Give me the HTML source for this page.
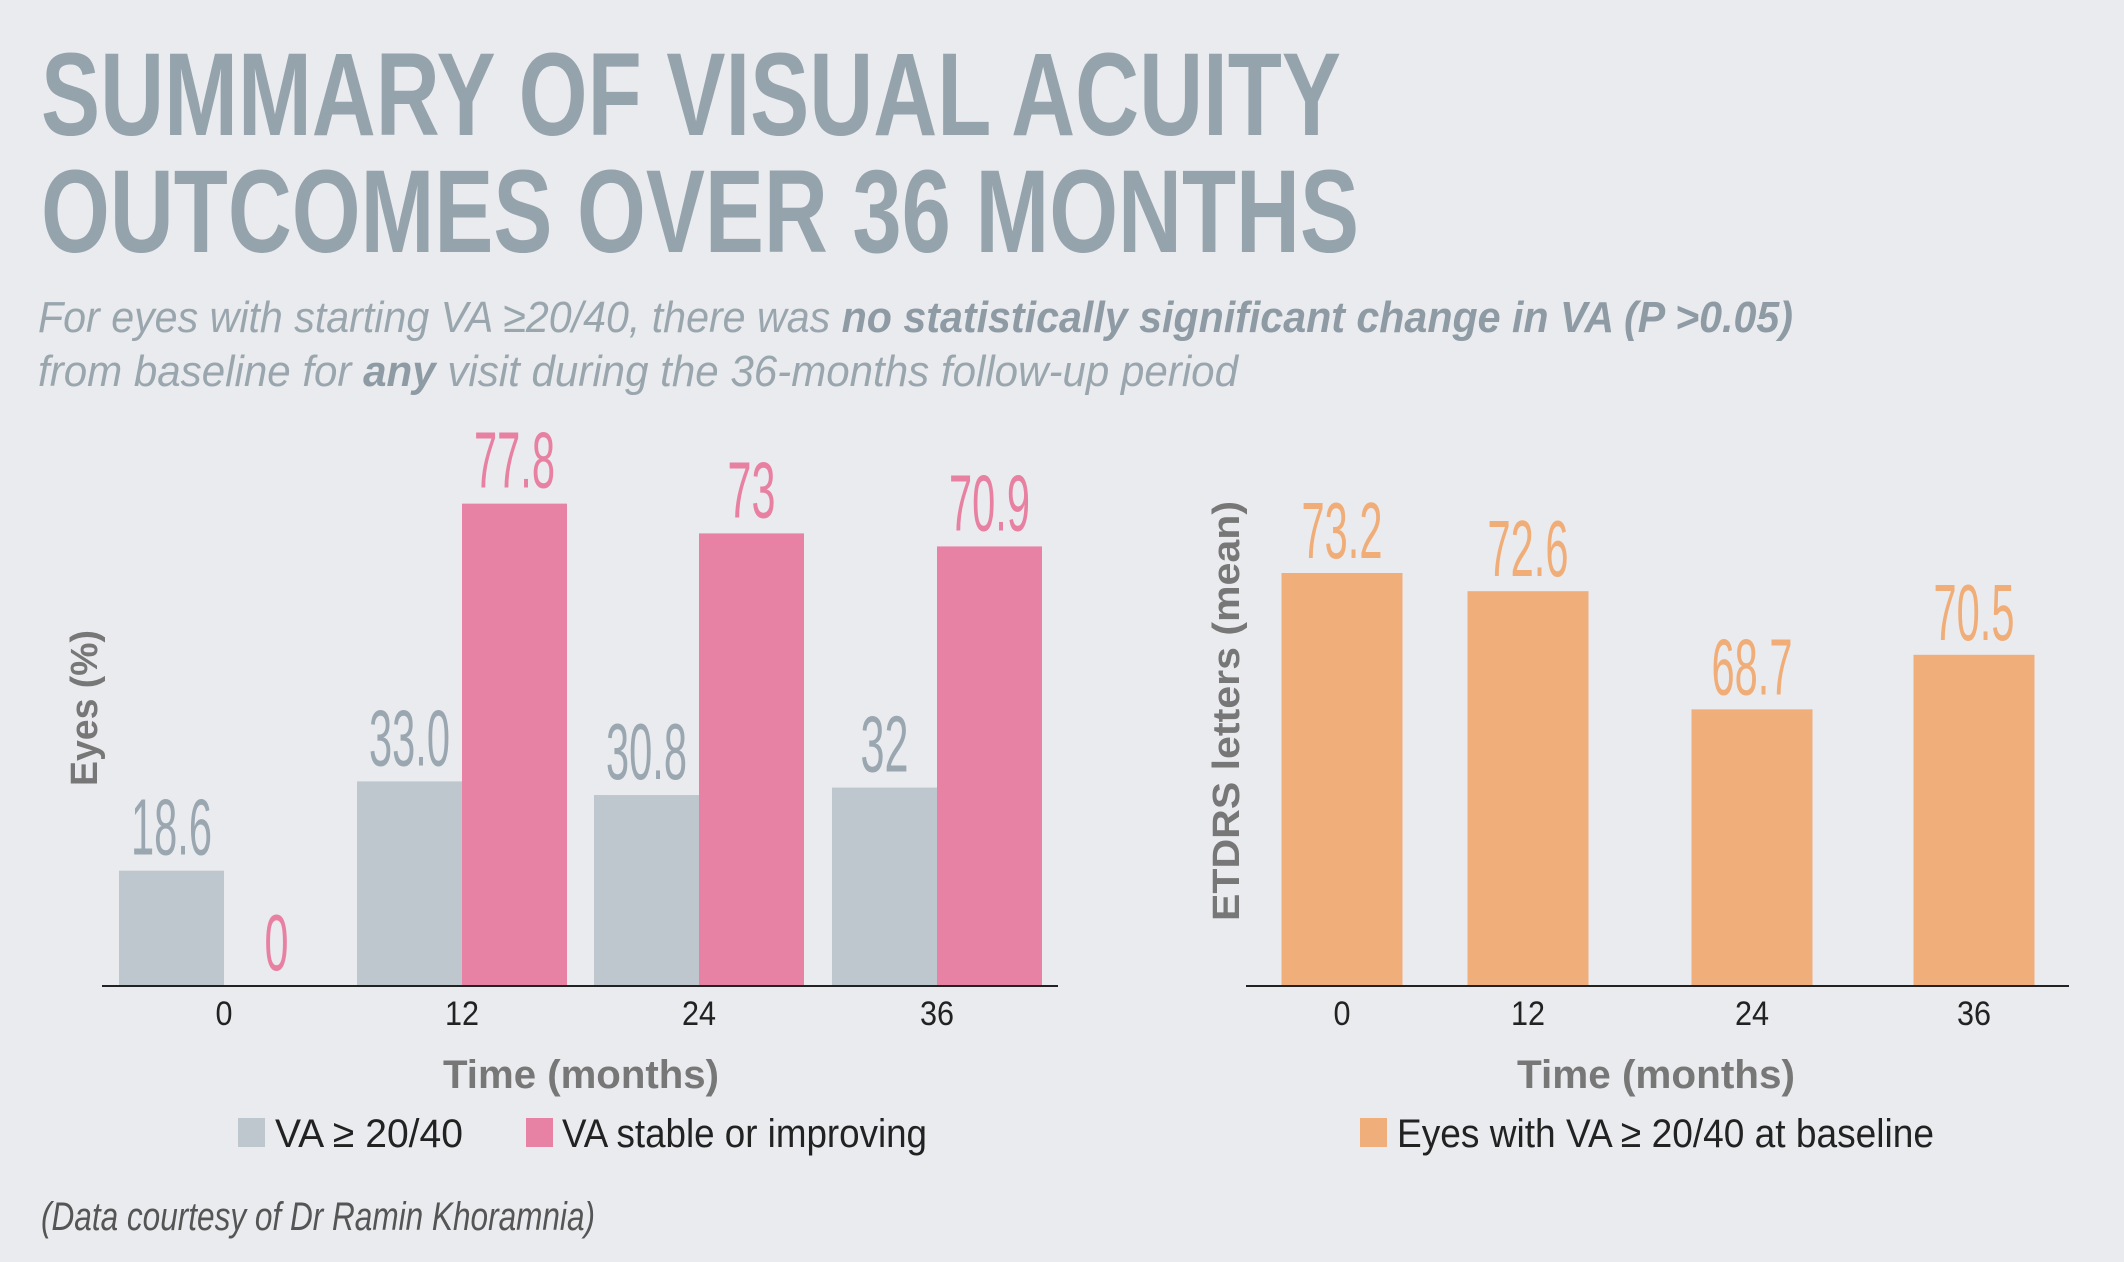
<!DOCTYPE html>
<html><head><meta charset="utf-8"><style>
html,body{margin:0;padding:0;background:#e9ebee;}
svg{display:block;font-family:"Liberation Sans",sans-serif;}
</style></head><body>
<svg id="root" width="2124" height="1262" viewBox="0 0 2124 1262">
<rect x="0" y="0" width="2124" height="1262" fill="#e9ebee"/>
<g fill="#95a3ac" font-weight="bold" font-size="118">
<text x="41" y="135" textLength="1300" lengthAdjust="spacingAndGlyphs">SUMMARY OF VISUAL ACUITY</text>
<text x="41" y="252" textLength="1318" lengthAdjust="spacingAndGlyphs">OUTCOMES OVER 36 MONTHS</text>
</g>
<g fill="#9aa6ae" font-style="italic" font-size="44">
<text x="38" y="332" textLength="1755" lengthAdjust="spacingAndGlyphs">For eyes with starting VA ≥20/40, there was <tspan font-weight="bold" fill="#8e9ba4">no statistically significant change in VA (P &gt;0.05)</tspan></text>
<text x="38" y="386" textLength="1200" lengthAdjust="spacingAndGlyphs">from baseline for <tspan font-weight="bold" fill="#8e9ba4">any</tspan> visit during the 36-months follow-up period</text>
</g>
<g id="left"></g>
<g id="right"></g>
<text x="41" y="1230" font-size="40" font-style="italic" fill="#555" textLength="554" lengthAdjust="spacingAndGlyphs">(Data courtesy of Dr Ramin Khoramnia)</text>
</svg>
<script>
const leftCategories = ["0","12","24","36"];
const leftGray = [18.6, 33.0, 30.8, 32];
const leftGrayLabels = ["18.6","33.0","30.8","32"];
const leftPink = [0, 77.8, 73, 70.9];
const leftPinkLabels = ["0","77.8","73","70.9"];
const rightCategories = ["0","12","24","36"];
const rightValues = [73.2, 72.6, 68.7, 70.5];
const rightLabels = ["73.2","72.6","68.7","70.5"];

const NS="http://www.w3.org/2000/svg";
function mk(tag, attrs, parent){const e=document.createElementNS(NS,tag);for(const k in attrs)e.setAttribute(k,attrs[k]);parent.appendChild(e);return e;}
function labelLen(s){let n=0;for(const c of s){n+=(c==='.')?9:24;}return n;}

const BASE=986;
const VFS=80;
// Left chart
const L=document.getElementById('left');
const lCenters=[224,462,699,937];
const lx=i=>lCenters[i];
const ly=v=>BASE-v*6.2;
const bw=105;
leftCategories.forEach((c,i)=>{
  const g=mk('rect',{x:lx(i)-bw,y:ly(leftGray[i]),width:bw,height:BASE-ly(leftGray[i]),fill:'#bec6ce'},L);
  
  
  const p=mk('rect',{x:lx(i),y:ly(leftPink[i]),width:bw,height:BASE-ly(leftPink[i]),fill:'#e882a5'},L);
  
  
  const gl=mk('text',{x:lx(i)-bw/2,y:ly(leftGray[i])-16,'font-size':VFS,fill:'#9aa7b0','text-anchor':'middle',textLength:labelLen(leftGrayLabels[i]),lengthAdjust:'spacingAndGlyphs'},L);
  gl.textContent=leftGrayLabels[i];
  
  
  const pl=mk('text',{x:lx(i)+bw/2,y:ly(leftPink[i])-16,'font-size':VFS,fill:'#e880a2','text-anchor':'middle',textLength:labelLen(leftPinkLabels[i]),lengthAdjust:'spacingAndGlyphs'},L);
  pl.textContent=leftPinkLabels[i];
  
  
  const t=mk('text',{x:lx(i),y:1025,'font-size':34,fill:'#222','text-anchor':'middle',textLength:c.length*17,lengthAdjust:'spacingAndGlyphs'},L);
  t.textContent=c;
  
  
});
const la=mk('line',{x1:102,x2:1058,y1:BASE,y2:BASE,stroke:'#222','stroke-width':2},L);


const lxt=mk('text',{x:581,y:1088,'font-size':40,'font-weight':'bold',fill:'#777','text-anchor':'middle',textLength:276,lengthAdjust:'spacingAndGlyphs'},L);
lxt.textContent='Time (months)';


const lyt=mk('text',{x:0,y:0,transform:'translate(97,708) rotate(-90)','font-size':38,'font-weight':'bold',fill:'#777','text-anchor':'middle',textLength:156,lengthAdjust:'spacingAndGlyphs'},L);
lyt.textContent='Eyes (%)';


const lg1=mk('rect',{x:238,y:1118,width:27,height:29,fill:'#bec6ce'},L);


const lt1=mk('text',{x:275,y:1147,'font-size':40,fill:'#222',textLength:188,lengthAdjust:'spacingAndGlyphs'},L);
lt1.textContent='VA ≥ 20/40';


const lg2=mk('rect',{x:526,y:1118,width:27,height:29,fill:'#e882a5'},L);


const lt2=mk('text',{x:562,y:1147,'font-size':40,fill:'#222',textLength:365,lengthAdjust:'spacingAndGlyphs'},L);
lt2.textContent='VA stable or improving';



// Right chart
const R=document.getElementById('right');
const rCenters=[1342,1528,1752,1974];
const rx=i=>rCenters[i];
const ry=v=>BASE-(v-59.57)*30.3;
const rbw=121;
rightCategories.forEach((c,i)=>{
  const b=mk('rect',{x:rx(i)-rbw/2,y:ry(rightValues[i]),width:rbw,height:BASE-ry(rightValues[i]),fill:'#f0ae7a'},R);
  
  
  const l=mk('text',{x:rx(i),y:ry(rightValues[i])-15,'font-size':VFS,fill:'#f0ad78','text-anchor':'middle',textLength:labelLen(rightLabels[i]),lengthAdjust:'spacingAndGlyphs'},R);
  l.textContent=rightLabels[i];
  
  
  const t=mk('text',{x:rx(i),y:1025,'font-size':34,fill:'#222','text-anchor':'middle',textLength:c.length*17,lengthAdjust:'spacingAndGlyphs'},R);
  t.textContent=c;
  
  
});
const ra=mk('line',{x1:1246,x2:2069,y1:BASE,y2:BASE,stroke:'#222','stroke-width':2},R);


const rxt=mk('text',{x:1656,y:1088,'font-size':40,'font-weight':'bold',fill:'#777','text-anchor':'middle',textLength:278,lengthAdjust:'spacingAndGlyphs'},R);
rxt.textContent='Time (months)';


const ryt=mk('text',{x:0,y:0,transform:'translate(1239,711) rotate(-90)','font-size':38,'font-weight':'bold',fill:'#777','text-anchor':'middle',textLength:420,lengthAdjust:'spacingAndGlyphs'},R);
ryt.textContent='ETDRS letters (mean)';


const rg=mk('rect',{x:1360,y:1118,width:27,height:29,fill:'#f0ae7a'},R);


const rt=mk('text',{x:1397,y:1147,'font-size':40,fill:'#222',textLength:537,lengthAdjust:'spacingAndGlyphs'},R);
rt.textContent='Eyes with VA ≥ 20/40 at baseline';


</script>
</body></html>
